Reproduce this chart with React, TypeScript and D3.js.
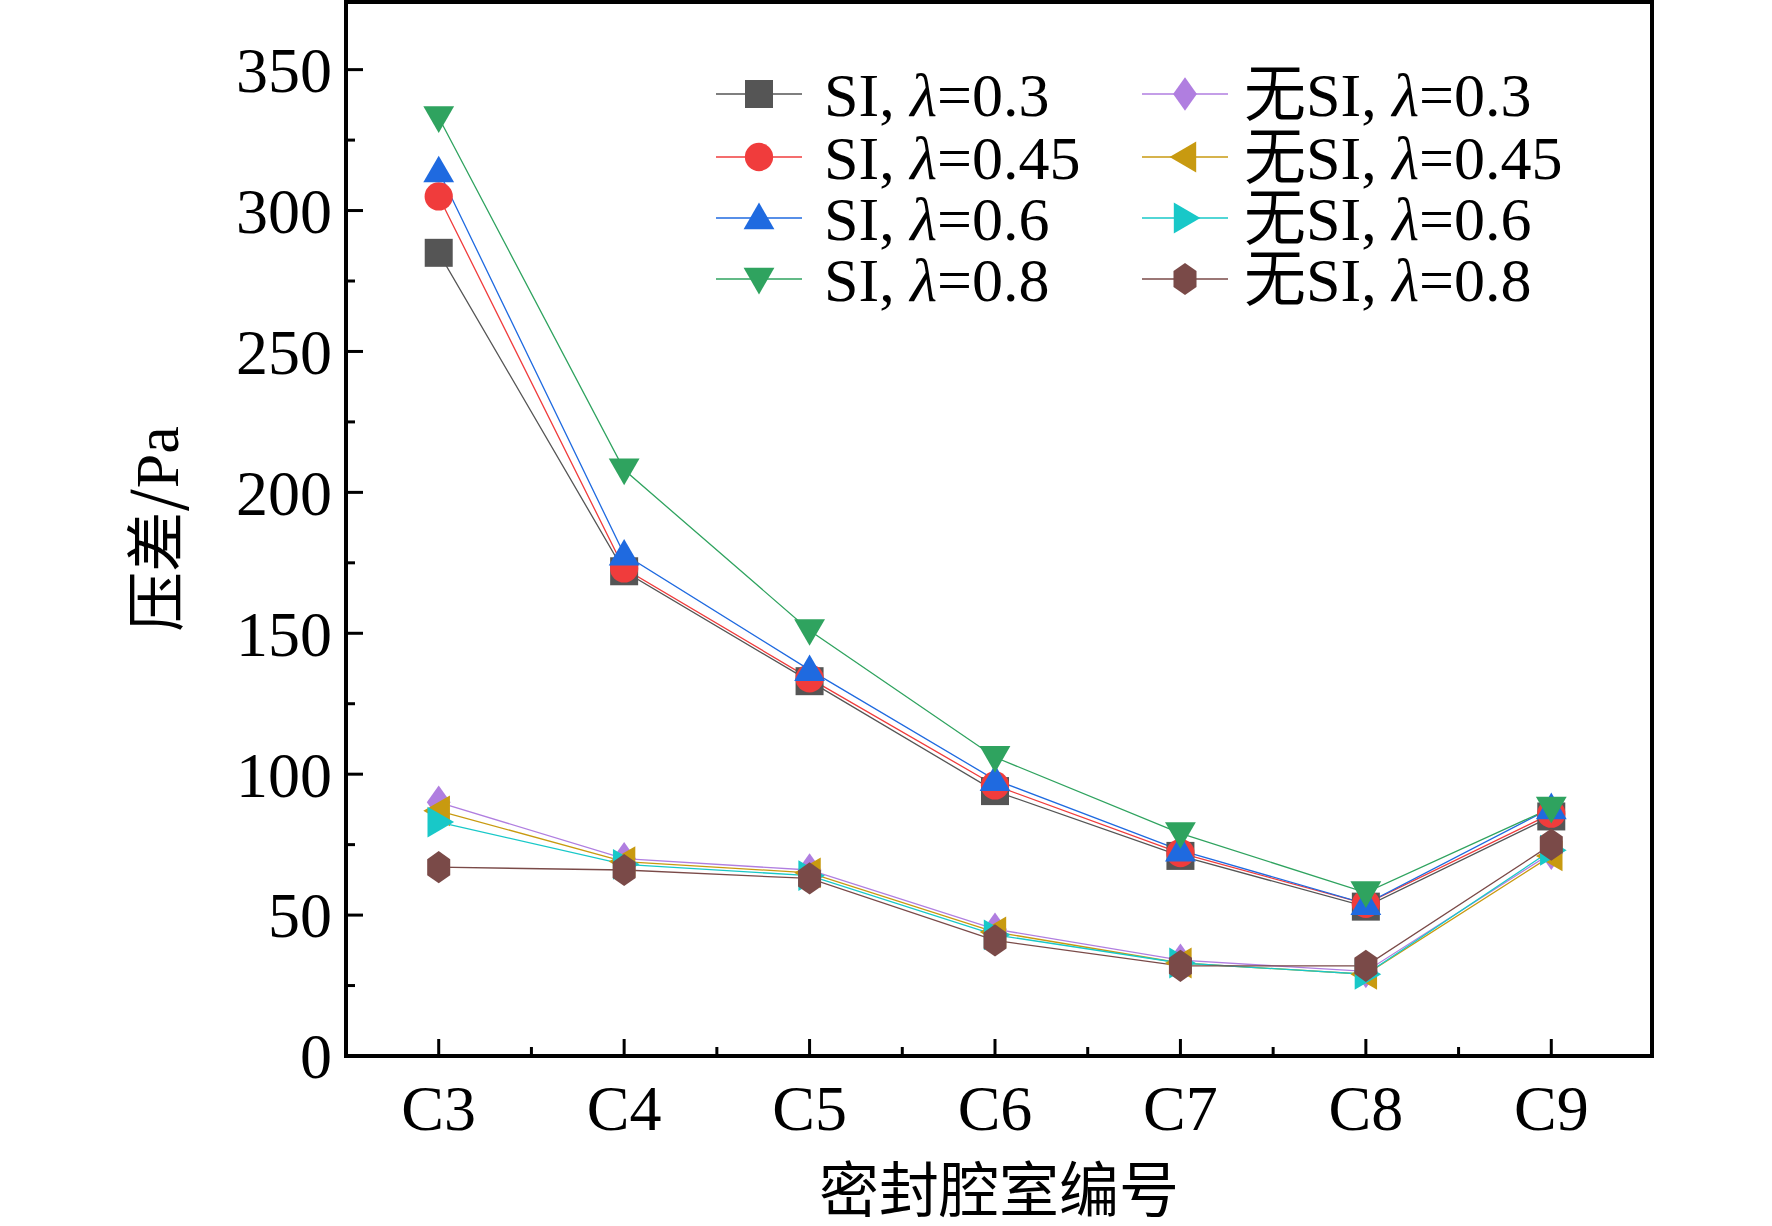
import { useEffect, useRef } from "react";
import * as d3 from "d3";

const categories = ["C3", "C4", "C5", "C6", "C7", "C8", "C9"];
const seriesNames = [
  "SI, λ=0.3", "SI, λ=0.45", "SI, λ=0.6", "SI, λ=0.8",
  "无SI, λ=0.3", "无SI, λ=0.45", "无SI, λ=0.6", "无SI, λ=0.8",
];
const si03 = [285, 172, 133, 94, 71, 53, 85];
const si045 = [305, 173, 134, 96, 72, 54, 86];
const si06 = [314, 178, 137, 98, 73, 54, 88];
const si08 = [333, 208, 151, 106, 79, 58, 88];
const no03 = [90, 70, 66, 45, 34, 30, 72];
const no045 = [87, 69, 65, 44, 33, 29, 71];
const no06 = [83, 68, 64, 43, 33, 29, 73];
const no08 = [67, 66, 63, 41, 32, 32, 75];
const yTicks = [0, 50, 100, 150, 200, 250, 300, 350];

const colors = ["#555555", "#f03c3c", "#1f6ae0", "#2fa35f", "#b07ee0", "#c89a10", "#18c8c8", "#7a4a48"];
const shapes = ["square", "circle", "up", "down", "diamond", "left", "right", "hex"];

function markerPath(shape: string, s: number) {
  const r = s / 2;
  switch (shape) {
    case "square": return `M${-r},${-r}H${r}V${r}H${-r}Z`;
    case "circle": return d3.symbol(d3.symbolCircle, s * s * 0.8)()!;
    case "up": return `M0,${-r * 1.1}L${r * 1.1},${r * 0.8}L${-r * 1.1},${r * 0.8}Z`;
    case "down": return `M0,${r * 1.1}L${r * 1.1},${-r * 0.8}L${-r * 1.1},${-r * 0.8}Z`;
    case "diamond": return `M0,${-r * 1.2}L${r * 0.85},0L0,${r * 1.2}L${-r * 0.85},0Z`;
    case "left": return `M${-r * 1.1},0L${r * 0.8},${-r * 1.1}L${r * 0.8},${r * 1.1}Z`;
    case "right": return `M${r * 1.1},0L${-r * 0.8},${-r * 1.1}L${-r * 0.8},${r * 1.1}Z`;
    default: {
      const pts = d3.range(6).map((i) => {
        const a = Math.PI / 2 + (i * Math.PI) / 3;
        return [Math.cos(a) * r * 0.95, Math.sin(a) * r * 1.15];
      });
      return "M" + pts.map((p) => p.join(",")).join("L") + "Z";
    }
  }
}

export default function App() {
  const svgRef = useRef<SVGSVGElement>(null);

  useEffect(() => {
    document.body.style.margin = "0";
    if (!svgRef.current) return;
    const svg = d3.select(svgRef.current);
    svg.selectAll("*").remove();

    const left = 346, right = 1652, top = 2, bottom = 1056;
    const x = d3.scaleLinear().domain([-0.5, 6.5]).range([left, right - 8]);
    const y = d3.scaleLinear().domain([0, 374]).range([bottom, top]);
    const serif = "'Liberation Serif', 'Times New Roman', serif";
    const cjk = "'Noto Sans CJK SC', sans-serif";
    const ms = 28;

    const data = [si03, si045, si06, si08, no03, no045, no06, no08];
    const line = d3.line<number>().x((_, i) => x(i)).y((d) => y(d));

    data.forEach((vals, k) => {
      svg.append("path").attr("d", line(vals)).attr("fill", "none")
        .attr("stroke", colors[k]).attr("stroke-width", 1.3);
    });
    data.forEach((vals, k) => {
      svg.append("g").selectAll("path").data(vals).join("path")
        .attr("transform", (d, i) => `translate(${x(i)},${y(d)})`)
        .attr("d", markerPath(shapes[k], ms)).attr("fill", colors[k]);
    });

    // frame
    svg.append("rect").attr("x", left).attr("y", top).attr("width", right - left)
      .attr("height", bottom - top).attr("fill", "none").attr("stroke", "#000").attr("stroke-width", 4);

    // y ticks
    const yMinor = d3.range(25, 375, 50);
    yTicks.forEach((t) => {
      svg.append("line").attr("x1", left).attr("x2", left + 17).attr("y1", y(t)).attr("y2", y(t))
        .attr("stroke", "#000").attr("stroke-width", 3);
      svg.append("text").attr("x", left - 14).attr("y", y(t)).attr("dy", "0.35em")
        .attr("text-anchor", "end").attr("font-family", serif).attr("font-size", 64).text(t);
    });
    yMinor.forEach((t) => {
      svg.append("line").attr("x1", left).attr("x2", left + 9).attr("y1", y(t)).attr("y2", y(t))
        .attr("stroke", "#000").attr("stroke-width", 3);
    });
    categories.forEach((c, i) => {
      svg.append("line").attr("x1", x(i)).attr("x2", x(i)).attr("y1", bottom).attr("y2", bottom - 17)
        .attr("stroke", "#000").attr("stroke-width", 3);
      if (i < 6) svg.append("line").attr("x1", x(i + 0.5)).attr("x2", x(i + 0.5)).attr("y1", bottom).attr("y2", bottom - 9)
        .attr("stroke", "#000").attr("stroke-width", 3);
      svg.append("text").attr("x", x(i)).attr("y", bottom + 74).attr("text-anchor", "middle")
        .attr("font-family", serif).attr("font-size", 64).text(c);
    });

    svg.append("text").attr("x", (left + right) / 2).attr("y", 1212).attr("text-anchor", "middle")
      .attr("font-family", cjk).attr("font-size", 60).text("密封腔室编号");
    svg.append("text").attr("transform", `translate(178,${y(187)}) rotate(-90)`).attr("text-anchor", "middle")
      .attr("font-size", 60).attr("font-family", cjk).text("压差/")
      .append("tspan").attr("font-family", serif).attr("font-size", 62).text("Pa");

    // legend
    const rowY = [94, 157, 218, 279];
    seriesNames.forEach((name, k) => {
      const col = Math.floor(k / 4), r = k % 4;
      const lx = col === 0 ? 716 : 1142;
      const ly = rowY[r];
      svg.append("line").attr("x1", lx).attr("x2", lx + 86).attr("y1", ly).attr("y2", ly)
        .attr("stroke", colors[k]).attr("stroke-width", 1.3);
      svg.append("path").attr("transform", `translate(${lx + 43},${ly})`)
        .attr("d", markerPath(shapes[k], ms)).attr("fill", colors[k]);
      const [pre, val] = name.split("λ");
      const t = svg.append("text").attr("x", col === 0 ? lx + 108 : lx + 102).attr("y", ly).attr("dy", "0.35em")
        .attr("font-size", 62).attr("font-family", serif);
      t.append("tspan").attr("font-family", pre.startsWith("无") ? cjk : serif)
        .text(pre.startsWith("无") ? "无" : "");
      t.append("tspan").text(pre.replace("无", ""));
      t.append("tspan").attr("font-style", "italic").text("λ");
      t.append("tspan").text(val);
    });
  }, []);

  return <svg ref={svgRef} width={1772} height={1226} style={{ display: "block", background: "#fff" }} />;
}
